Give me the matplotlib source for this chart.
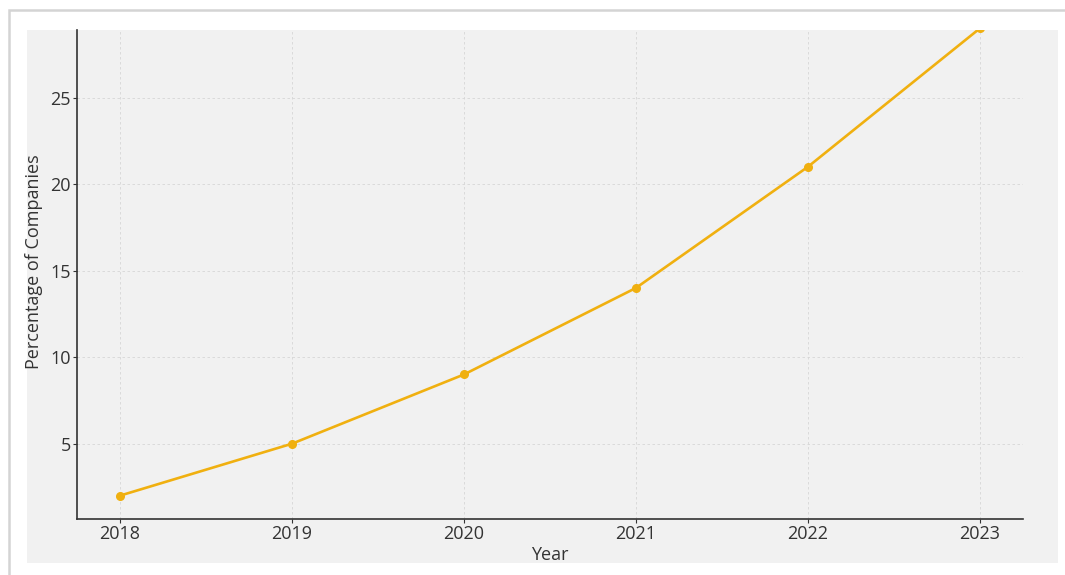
"""Share of companies by year — line chart on a grey card."""
import matplotlib; matplotlib.use("Agg"); import matplotlib.pyplot as plt
from matplotlib.patches import Rectangle

years = [2018, 2019, 2020, 2021, 2022, 2023]
pct = [2, 5, 9, 14, 21, 29]
y_ticks = [5, 10, 15, 20, 25]

W, H = 1065, 575
plt.rcParams["font.family"] = ["Open Sans", "DejaVu Sans"]

fig = plt.figure(figsize=(W / 100, H / 100), dpi=100, facecolor="white")

def fx(px): return px / W
def fy(py): return 1 - py / H

# card frame and grey background (pixel coords from the top-left)
fig.patches.append(Rectangle((fx(9), fy(H + 5)), fx(W + 5 - 9), (H + 5 - 10) / H,
                             transform=fig.transFigure, facecolor="white",
                             edgecolor="#d4d4d4", lw=1.8, zorder=-2))
fig.patches.append(Rectangle((fx(27), fy(563)), fx(1058 - 27), (563 - 30) / H,
                             transform=fig.transFigure, facecolor="#f1f1f1",
                             edgecolor="none", zorder=-1))

ax = fig.add_axes([fx(77), fy(519), fx(1023 - 77), (519 - 30) / H])
ax.set_zorder(2)
ax.set_facecolor("none")
ax.plot(years, pct, color="#f0b010", lw=1.9, marker="o", ms=5.5, clip_on=True, zorder=3)
ax.set_xlim(2017.75, 2023.25)
ax.set_ylim(0.65, 28.9)
ax.set_xticks(years)
ax.set_yticks(y_ticks)
ax.grid(True, ls=(0, (3, 3)), lw=0.6, color="#d6d6d6")
for s in ["top", "right"]:
    ax.spines[s].set_visible(False)
for s in ["left", "bottom"]:
    ax.spines[s].set_color("#333333")
    ax.spines[s].set_linewidth(1.2)
ax.tick_params(length=3, width=0.8, color="#333333", labelsize=13, labelcolor="#333333", pad=1.5)
ax.set_xlabel("Year", fontsize=13, color="#333333", labelpad=2)
ax.set_ylabel("Percentage of Companies", fontsize=13, color="#333333")
# original axes ran higher before the picture was cropped, so the label sits above centre
ax.yaxis.set_label_coords(-0.036, 0.526)

fig.savefig("out.png", dpi=100, facecolor="white")
